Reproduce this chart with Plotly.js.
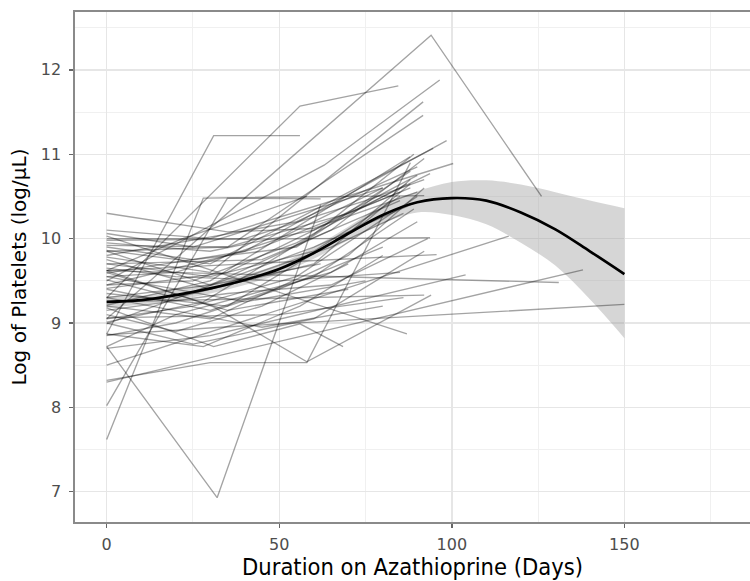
<!DOCTYPE html>
<html>
<head>
<meta charset="utf-8">
<script src="https://cdn.plot.ly/plotly-3.0.1.min.js"></script>
<style>
  html, body { margin: 0; padding: 0; background: #ffffff; }
  #chart { width: 750px; height: 581px; }
</style>
</head>
<body>
<div id="chart"></div>
<script>
// ---- Per-patient observations (long format): patient id, day, log platelets ----
const patientId = [
  1,1,1,
  2,2,2,
  3,3,3,
  4,4,4,
  5,5,5,
  6,6,6,
  7,7,
  8,8,8,8,8,
  9,9,9,9,
  10,10,
  11,11,11,
  12,12,
  13,13,
  14,14,14,14,
  15,15,15,
  16,16,16,
  17,17,17,
  18,18,18,
  19,19,19,
  20,20,20,
  21,21,21,
  22,22,22,
  23,23,23,
  24,24,24,24,
  25,25,
  26,26,
  27,27,
  28,28,28,
  29,29,29,
  30,30,30,30,
  31,31,31,
  32,32,32,32,
  33,33,33,
  34,34,34,34,
  35,35,35,35,
  36,36,36,36,
  37,37,37,
  38,38,38,38,
  39,39,39,39,
  40,40,40,40,
  41,41,41,41,
  42,42,42,42,
  43,43,43,
  44,44,44,
  45,45,45,
  46,46,46,46,
  47,47,47,47,
  48,48,48,48,
  49,49,49,49,
  50,50,50,50,
  51,51,51,
  52,52,52,
  53,53,53,53,
  54,54,54,54,
  55,55,55,55,
  56,56,56,56,
  57,57,57,57,
  58,58,58,58,
  59,59,59,59,
  60,60,60,60
];
const visitDay = [
  0,28,92,
  0,35,62,
  0,31,56,
  0,56,84.5,
  0,94,126,
  0,32,62,
  0,138,
  0,30,58,78,88,
  0,31,58,94,
  0,131,
  0,33,150,
  0,116.5,
  0,87,
  0,31,56,68.5,
  0,30,104,
  0,63,96.5,
  0,30,91.7,
  0,35,91.7,
  0,40,98.5,
  0,30,100.4,
  0,30,94.6,
  0,30,87.9,
  0,35,93.7,
  0,35,60,90,
  0,93.7,
  0,95.6,
  0,92,
  0,50,86,
  0,25,80,
  0,20,60,88,
  0,60,88,
  0,30,70,92,
  0,45,85,
  0,20,65,90,
  0,35,75,88,
  0,25,55,88,
  0,35,70,
  0,25,60,92,
  0,28,56,80,
  0,20,45,70,
  0,15,45,85,
  0,30,65,86,
  0,45,80,
  0,40,75,
  0,55,90,
  0,40,75,92,
  0,35,65,93,
  0,20,50,80,
  0,20,50,85,
  0,28,60,89,
  0,22,58,
  0,30,62,
  0,30,60,90,
  0,25,55,87,
  0,30,60,85,
  0,30,65,92,
  0,20,50,80,
  0,25,55,90,
  0,35,70,88,
  0,30,60,89
];
const logPlatelets = [
  7.62,10.48,10.51,
  8.02,10.48,10.47,
  8.87,11.22,11.22,
  9.30,11.57,11.81,
  9.05,12.41,10.50,
  8.72,6.93,10.40,
  8.30,9.63,
  8.32,8.53,8.53,10.10,10.90,
  9.62,9.19,8.54,9.33,
  9.62,9.48,
  8.86,8.95,9.22,
  8.50,10.03,
  10.03,8.87,
  9.18,8.72,8.99,8.72,
  8.70,8.85,9.57,
  9.50,10.87,11.88,
  9.78,9.60,11.62,
  9.92,9.90,11.46,
  9.59,9.85,11.16,
  10.10,10.00,10.89,
  9.86,9.70,11.07,
  9.21,9.50,10.97,
  9.41,9.60,10.77,
  10.30,10.08,10.12,10.55,
  9.98,10.01,
  9.62,9.81,
  9.25,9.33,
  9.06,9.10,9.30,
  10.06,9.90,10.60,
  9.51,9.30,9.70,10.70,
  8.99,9.90,10.40,
  9.20,9.05,9.80,10.60,
  9.70,9.75,10.45,
  8.72,9.10,9.60,10.20,
  9.35,9.20,10.20,10.65,
  9.90,9.75,9.90,10.80,
  9.60,9.15,9.40,
  9.00,8.75,9.05,9.85,
  8.87,8.72,9.20,9.80,
  9.10,8.90,9.20,9.70,
  9.45,9.60,9.90,10.55,
  9.75,9.40,9.90,10.30,
  9.30,8.95,9.20,
  9.55,9.25,9.50,
  9.80,10.20,10.85,
  10.00,10.00,10.45,10.70,
  9.15,9.35,9.45,10.00,
  8.85,9.00,9.40,9.90,
  9.65,9.55,9.50,9.60,
  9.01,9.25,10.05,11.00,
  9.62,10.00,10.50,
  9.85,9.45,9.70,
  9.95,9.85,10.10,10.75,
  9.45,9.50,9.95,10.65,
  9.70,9.55,9.85,10.50,
  9.30,9.45,10.10,10.95,
  9.55,9.60,10.00,10.60,
  9.05,9.20,9.55,10.50,
  9.85,9.90,10.30,10.60,
  9.40,9.15,9.55,10.35
];

// ---- Smoothed mean trajectory with 95% band ----
const smoothDay   = [0, 10, 20, 30, 40, 50, 60, 70, 80, 90, 100, 110, 120, 130, 140, 150];
const smoothFit   = [9.25, 9.27, 9.33, 9.41, 9.51, 9.64, 9.83, 10.06, 10.28, 10.43, 10.48, 10.45, 10.31, 10.11, 9.85, 9.58];
const smoothLower = [9.18, 9.22, 9.27, 9.35, 9.45, 9.58, 9.76, 9.98, 10.18, 10.31, 10.28, 10.17, 9.95, 9.68, 9.28, 8.82];
const smoothUpper = [9.32, 9.32, 9.39, 9.47, 9.57, 9.70, 9.90, 10.14, 10.40, 10.56, 10.67, 10.69, 10.64, 10.55, 10.45, 10.36];

// ---- Axis ticks ----
const xTickVals = [0, 50, 100, 150];
const yTickVals = [7, 8, 9, 10, 11, 12];
const xTitleText = 'Duration on Azathioprine (Days)';
const yTitleText = 'Log of Platelets (log/\u03BCL)';

// group observations by patient
const patients = {};
patientId.forEach((id, i) => {
  if (!patients[id]) patients[id] = { x: [], y: [] };
  patients[id].x.push(visitDay[i]);
  patients[id].y.push(logPlatelets[i]);
});

const traces = [];
// confidence band: lower edge, then upper edge filled down to it
traces.push({
  x: smoothDay, y: smoothLower, type: 'scatter', mode: 'lines',
  line: { width: 0, shape: 'spline', color: 'rgba(0,0,0,0)' },
  hoverinfo: 'skip', showlegend: false
});
traces.push({
  x: smoothDay, y: smoothUpper, type: 'scatter', mode: 'lines', fill: 'tonexty',
  fillcolor: 'rgba(153,153,153,0.4)',
  line: { width: 0, shape: 'spline', color: 'rgba(0,0,0,0)' },
  hoverinfo: 'skip', showlegend: false
});
Object.keys(patients).forEach(id => {
  traces.push({
    x: patients[id].x, y: patients[id].y,
    type: 'scatter', mode: 'lines',
    line: { color: 'rgba(0,0,0,0.36)', width: 1.35 },
    showlegend: false, hoverinfo: 'skip'
  });
});
traces.push({
  x: smoothDay, y: smoothFit, type: 'scatter', mode: 'lines',
  line: { color: '#000000', width: 2.7, shape: 'spline' },
  showlegend: false
});

const layout = {
  width: 750, height: 581,
  margin: { l: 75, r: 0, t: 12, b: 59 },
  paper_bgcolor: '#ffffff', plot_bgcolor: '#ffffff',
  showlegend: false,
  font: { family: 'DejaVu Sans', color: '#4d4d4d' },
  xaxis: {
    range: [-9.18, 186.4],
    tickvals: xTickVals, ticktext: xTickVals.map(String),
    showgrid: true, gridcolor: '#e6e6e6', gridwidth: 1.4,
    minor: { dtick: 25, tick0: 0, showgrid: true, gridcolor: '#f0f0f0', gridwidth: 1, ticks: '' },
    zeroline: false,
    showline: true, linecolor: '#8a8a8a', linewidth: 1.6, mirror: true,
    ticks: 'outside', ticklen: 4, tickwidth: 1.4, tickcolor: '#666666',
    tickfont: { family: 'DejaVu Sans', size: 16, color: '#4d4d4d' },
    ticklabelstandoff: 3,
    title: { text: xTitleText, font: { family: 'DejaVu Sans Condensed, DejaVu Sans', size: 23.5, color: '#000000' }, standoff: 6 }
  },
  yaxis: {
    range: [6.642, 12.685],
    tickvals: yTickVals, ticktext: yTickVals.map(String),
    showgrid: true, gridcolor: '#e6e6e6', gridwidth: 1.4,
    minor: { dtick: 0.5, tick0: 0, showgrid: true, gridcolor: '#f0f0f0', gridwidth: 1, ticks: '' },
    zeroline: false,
    showline: true, linecolor: '#8a8a8a', linewidth: 1.6, mirror: false,
    ticks: 'outside', ticklen: 4, tickwidth: 1.4, tickcolor: '#666666',
    tickfont: { family: 'DejaVu Sans', size: 16, color: '#4d4d4d' },
    ticklabelstandoff: 5,
    title: { text: yTitleText, font: { family: 'DejaVu Sans', size: 20, color: '#000000' }, standoff: 9 }
  }
};

Plotly.newPlot('chart', traces, layout, { displayModeBar: false, staticPlot: true });
</script>
</body>
</html>
